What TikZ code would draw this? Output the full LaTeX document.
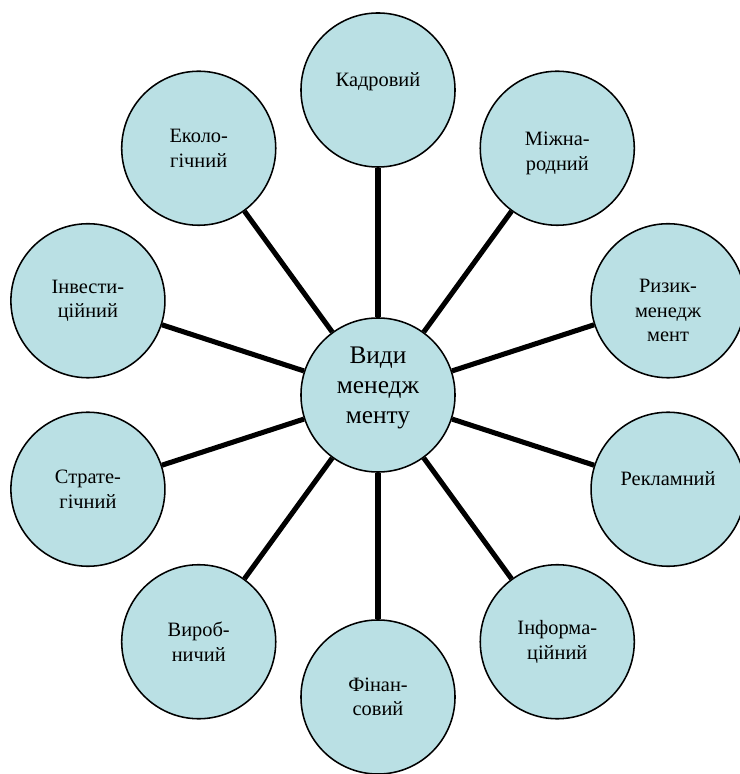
\documentclass[tikz,border=0pt]{standalone}
\usepackage{fontspec}
\setmainfont{Liberation Serif}
\usetikzlibrary{positioning}

\definecolor{kindfill}{RGB}{186,224,228}

\begin{document}
\begin{tikzpicture}[x=0.025cm, y=0.025cm,
    kind/.style={circle, draw=black, fill=kindfill, line width=1.1pt, minimum size=3.85cm, inner sep=0pt, align=center, font=\fontsize{14.5}{17.5}\selectfont},
    kindtext/.style={align=center, inner sep=0pt, font=\fontsize{14.5}{17.5}\selectfont},
    hub/.style={kind, font=\fontsize{18}{21.5}\selectfont},
    spoke/.style={line width=3.6pt}
]
\useasboundingbox (-378,-379) rectangle (361,395);

% centre and the ten kinds round it, 36 degrees apart
\node[hub, label={[kindtext, font=\fontsize{18}{21.5}\selectfont, yshift=5pt]center:{Види\\менедж\\менту}}] (vydy) at (0,0) {};

\node[kind, label={[kindtext, yshift=5.7pt]center:Кадровий}] (kadr) at (90:305) {};
\node[kind, label={[kindtext, yshift=-3.5pt]center:{Міжна-\\родний}}] (mizh) at (54:305) {};
\node[kind, label={[kindtext, yshift=-7pt]center:{Ризик-\\менедж\\мент}}] (ryzyk) at (18:305) {};
\node[kind, label={[kindtext, yshift=7.8pt]center:Рекламний}] (rekl) at (-18:305) {};
\node[kind] (inform) at (-54:305) {Інформа-\\ційний};
\node[kind] (fin) at (-90:302) {Фінан-\\совий};
\node[kind] (vyrob) at (-126:305) {Вироб-\\ничий};
\node[kind] (strat) at (-162:305) {Страте-\\гічний};
\node[kind] (invest) at (162:305) {Інвести-\\ційний};
\node[kind] (ekol) at (126:305) {Еколо-\\гічний};

\draw[spoke] (vydy) -- (kadr);
\draw[spoke] (vydy) -- (mizh);
\draw[spoke] (vydy) -- (ryzyk);
\draw[spoke] (vydy) -- (rekl);
\draw[spoke] (vydy) -- (inform);
\draw[spoke] (vydy) -- (fin);
\draw[spoke] (vydy) -- (vyrob);
\draw[spoke] (vydy) -- (strat);
\draw[spoke] (vydy) -- (invest);
\draw[spoke] (vydy) -- (ekol);

\end{tikzpicture}
\end{document}
